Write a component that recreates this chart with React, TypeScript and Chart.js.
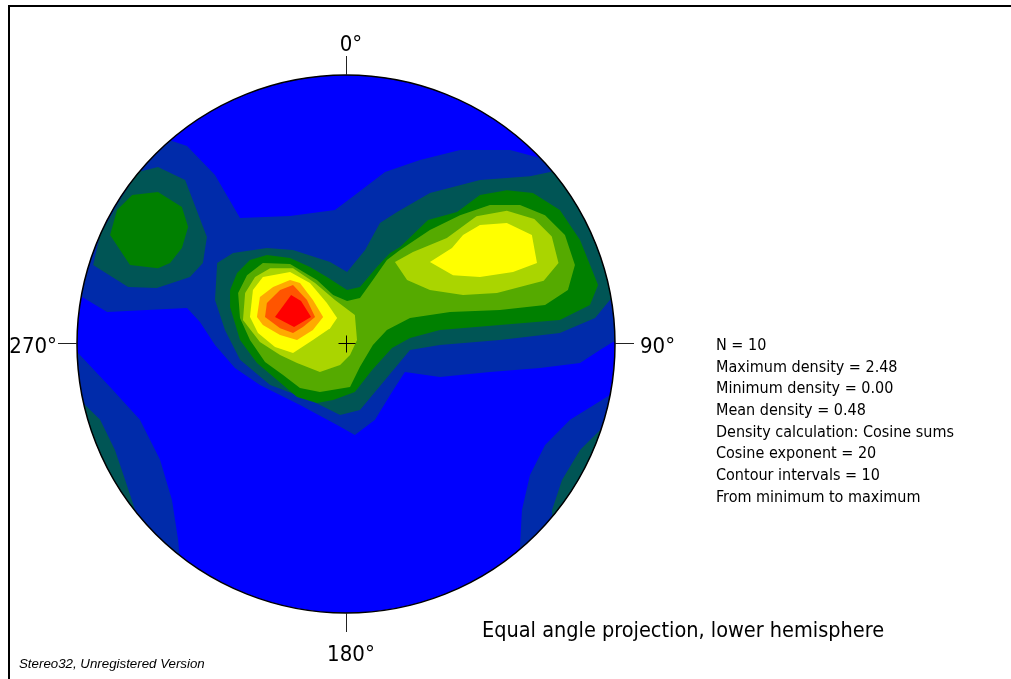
import React, { useEffect, useRef } from 'react';
import { Chart, registerables } from 'chart.js';

Chart.register(...registerables);

// ---- Data -------------------------------------------------------------
// Projection coordinates: primitive circle radius = 100 units, north up.
type Pt = [number, number];

const LEVEL_COLORS = ['#0000FF', '#002BAA', '#005555', '#008000', '#55AA00', '#AAD500', '#FFFF00', '#FFAA00', '#FF5500', '#FF0000'];

const DIRECTION_LABELS = ['0°', '90°', '180°', '270°'];

const STATS_LINES = [
  'N = 10',
  'Maximum density = 2.48',
  'Minimum density = 0.00',
  'Mean density = 0.48',
  'Density calculation: Cosine sums',
  'Cosine exponent = 20',
  'Contour intervals = 10',
  'From minimum to maximum',
];

const PROJECTION_TITLE = 'Equal angle projection, lower hemisphere';
const FOOTNOTE = 'Stereo32, Unregistered Version';

// contour level 1
const L1_MAIN: Pt[] = [[-76.6,79.5],[-59.1,73.6],[-48.7,62.8],[-39.4,46.8],[-20.8,47.6],[-4.1,49.8],[3.3,55.4],[14.5,63.9],[27.5,68.4],[42.4,72.1],[61.0,72.1],[72.1,69.1],[79.5,75.8],[124.1,16.4],[109.3,-0.4],[99.2,0.7],[94.4,-2.2],[87.0,-7.1],[72.1,-8.9],[53.5,-10.4],[34.9,-12.3],[21.9,-10.4],[16.4,-19.0],[10.8,-28.2],[3.3,-33.8],[-3.3,-30.1],[-17.1,-22.7],[-32.0,-15.2],[-41.3,-8.9],[-48.7,-0.4],[-54.3,8.2],[-59.1,13.4],[-88.8,11.9],[-98.1,17.5],[-110.0,20.1],[-106.3,53.5]];
const L1_SW: Pt[] = [[-106.3,1.5],[-99.6,-3.3],[-87.7,-16.0],[-76.6,-28.2],[-69.1,-43.1],[-64.7,-58.0],[-62.4,-72.9],[-61.7,-80.3],[-72.9,-95.2],[-113.7,-39.4]];
const L1_SE: Pt[] = [[109.3,-17.1],[98.1,-19.0],[83.3,-28.2],[74.0,-37.5],[68.4,-48.7],[65.4,-61.7],[64.7,-74.7],[64.7,-87.7],[109.3,-80.3]];
// contour level 2
const L2_NW: Pt[] = [[-77.3,63.9],[-69.9,65.8],[-59.8,61.0],[-51.7,39.8],[-53.2,30.1],[-58.0,24.9],[-70.3,20.8],[-81.0,21.2],[-94.0,29.4],[-91.4,40.5],[-84.0,53.5]];
const L2_MAIN: Pt[] = [[-48.7,16.4],[-47.9,30.1],[-42.0,33.8],[-29.4,35.7],[-19.7,34.9],[-5.9,30.5],[0.4,26.8],[7.1,34.9],[12.6,45.0],[19.0,49.1],[31.2,56.1],[49.8,61.0],[68.4,62.4],[79.5,64.7],[113.0,23.8],[109.3,16.4],[98.1,16.4],[92.6,9.7],[79.5,4.1],[57.2,1.5],[34.9,-0.4],[23.8,-2.2],[14.5,-13.4],[5.2,-24.5],[-2.2,-26.4],[-13.4,-20.8],[-28.2,-15.2],[-39.4,-5.9],[-45.0,5.2]];
const L2_SW: Pt[] = [[-102.6,-17.1],[-91.4,-28.2],[-85.9,-39.4],[-82.1,-50.6],[-78.4,-61.7],[-76.6,-67.3],[-87.7,-80.3],[-113.7,-39.4]];
const L2_SE: Pt[] = [[109.3,-28.2],[96.3,-30.1],[87.0,-39.4],[80.3,-50.6],[76.6,-61.7],[76.6,-69.1],[79.5,-80.3],[109.3,-65.4]];
// contour level 3
const L3_NW: Pt[] = [[-79.5,55.4],[-69.9,56.5],[-61.0,50.9],[-58.7,43.5],[-61.0,35.7],[-65.4,30.1],[-69.9,28.2],[-80.3,29.4],[-87.7,40.5],[-85.1,49.8]];
const L3_MAIN: Pt[] = [[-43.1,13.8],[-43.1,20.1],[-40.5,26.4],[-35.7,31.2],[-29.4,33.1],[-20.8,32.0],[-13.4,28.6],[-7.1,24.9],[0.4,20.1],[5.2,21.2],[11.5,28.6],[16.4,33.8],[20.1,36.1],[30.5,46.1],[41.3,49.1],[49.8,55.4],[59.8,57.2],[69.5,56.1],[79.5,49.8],[87.0,38.7],[93.7,21.9],[90.7,14.5],[79.5,8.9],[57.2,7.1],[34.9,5.2],[23.8,2.2],[17.1,-1.5],[9.7,-9.7],[3.3,-17.8],[-4.8,-20.8],[-10.8,-21.9],[-18.2,-19.7],[-25.6,-13.4],[-33.1,-7.1],[-39.4,1.5]];
// contour level 4
const L4_MAIN: Pt[] = [[-39.4,9.7],[-40.1,19.0],[-36.8,25.6],[-30.9,30.1],[-20.8,29.7],[-10.8,23.8],[-4.8,18.2],[0.4,16.0],[5.2,17.1],[10.0,23.8],[15.2,31.2],[20.1,34.9],[31.2,42.4],[42.4,47.9],[53.5,51.7],[64.7,51.7],[74.0,47.9],[81.4,40.5],[85.1,29.4],[82.5,20.1],[74.0,14.5],[57.2,12.6],[38.7,11.9],[23.8,9.7],[15.2,5.2],[10.0,-0.4],[5.2,-8.5],[1.5,-16.0],[-9.7,-17.8],[-17.1,-16.4],[-23.4,-11.5],[-30.1,-6.7],[-35.7,1.5]];
// contour level 5
const L5_CENTRAL: Pt[] = [[-38.3,8.9],[-37.5,19.0],[-33.8,24.9],[-28.2,28.2],[-19.7,28.2],[-11.5,22.7],[-4.1,16.4],[3.3,10.8],[4.1,1.5],[1.5,-4.1],[-2.2,-7.8],[-9.7,-10.4],[-18.2,-7.1],[-24.5,-4.1],[-32.0,0.7]];
const L5_NE: Pt[] = [[18.2,30.5],[24.9,34.2],[37.5,39.4],[48.5,47.5],[59.8,49.5],[70.0,46.5],[76.5,40.0],[79.0,30.1],[73.5,23.5],[56.1,19.0],[43.5,18.2],[31.2,20.1],[22.7,23.8]];
// contour level 6
const L6_CENTRAL: Pt[] = [[-35.7,10.0],[-34.6,20.1],[-30.9,24.9],[-20.8,26.8],[-13.4,22.7],[-7.1,15.2],[-3.3,9.7],[-5.9,5.9],[-12.3,1.5],[-19.7,-3.3],[-26.4,-1.1],[-32.7,4.1]];
const L6_NE: Pt[] = [[31.2,30.5],[39.4,35.7],[43.5,40.5],[49.8,44.2],[59.8,45.0],[69.1,40.5],[71.0,30.1],[62.1,26.8],[49.8,24.9],[39.8,25.6]];
// contour levels 7-9
const L7_CENTRAL: Pt[] = [[-33.1,10.0],[-32.0,17.5],[-27.1,21.2],[-20.8,23.8],[-17.1,22.7],[-12.3,16.4],[-8.5,10.0],[-12.3,5.2],[-18.2,1.5],[-24.5,3.3],[-30.9,7.1]];
const L8_CENTRAL: Pt[] = [[-30.1,10.0],[-29.4,15.2],[-24.5,20.1],[-19.7,21.9],[-14.5,16.4],[-11.5,10.0],[-16.0,6.3],[-19.7,4.1],[-24.5,5.9]];
const L9_CENTRAL: Pt[] = [[-26.4,10.0],[-20.4,18.2],[-16.7,16.0],[-13.0,10.0],[-19.3,6.3]];

const CONTOURS: { level: number; polys: Pt[][] }[] = [
  { level: 1, polys: [L1_MAIN, L1_SW, L1_SE] },
  { level: 2, polys: [L2_NW, L2_MAIN, L2_SW, L2_SE] },
  { level: 3, polys: [L3_NW, L3_MAIN] },
  { level: 4, polys: [L4_MAIN] },
  { level: 5, polys: [L5_CENTRAL, L5_NE] },
  { level: 6, polys: [L6_CENTRAL, L6_NE] },
  { level: 7, polys: [L7_CENTRAL] },
  { level: 8, polys: [L8_CENTRAL] },
  { level: 9, polys: [L9_CENTRAL] },
];

const PROJ_RADIUS = 100;

// ---- Layout ------------------------------------------------------------
const W = 1011;
const H = 679;
const CX = 346;
const CY = 344;
const R = 269;
const TICK_LEN = 19;
const FONT = '"DejaVu Sans Condensed", "Liberation Sans", sans-serif';

const stereoPlugin = {
  id: 'stereo',
  beforeDraw(chart: any) {
    const ctx = chart.ctx as CanvasRenderingContext2D;
    ctx.save();
    ctx.fillStyle = '#ffffff';
    ctx.fillRect(0, 0, chart.width, chart.height);
    ctx.fillStyle = '#000000';
    ctx.fillRect(8, 5, chart.width - 8, 2);
    ctx.fillRect(8, 5, 2, chart.height - 5);
    ctx.restore();
  },
  beforeDatasetsDraw(chart: any) {
    const ctx = chart.ctx as CanvasRenderingContext2D;
    const { x, y } = chart.scales;
    const cx = x.getPixelForValue(0);
    const cy = y.getPixelForValue(0);
    const r = x.getPixelForValue(PROJ_RADIUS) - cx;
    ctx.save();
    ctx.beginPath();
    ctx.arc(cx, cy, r, 0, Math.PI * 2);
    ctx.fillStyle = LEVEL_COLORS[0];
    ctx.fill();
    ctx.clip();
  },
  afterDatasetsDraw(chart: any) {
    const ctx = chart.ctx as CanvasRenderingContext2D;
    ctx.restore();
    const { x, y } = chart.scales;
    const cx = x.getPixelForValue(0);
    const cy = y.getPixelForValue(0);
    const r = x.getPixelForValue(PROJ_RADIUS) - cx;
    ctx.save();
    // primitive circle
    ctx.beginPath();
    ctx.arc(cx, cy, r, 0, Math.PI * 2);
    ctx.lineWidth = 1.5;
    ctx.strokeStyle = '#000000';
    ctx.stroke();
    // ticks
    const px = Math.round(cx) + 0.5;
    const py = Math.round(cy) - 0.5;
    ctx.lineWidth = 1;
    ctx.strokeStyle = '#222222';
    ctx.beginPath();
    ctx.moveTo(px, cy - r - TICK_LEN); ctx.lineTo(px, cy - r);
    ctx.moveTo(px, cy + r); ctx.lineTo(px, cy + r + TICK_LEN);
    ctx.moveTo(cx - r - TICK_LEN, py); ctx.lineTo(cx - r, py);
    ctx.moveTo(cx + r, py); ctx.lineTo(cx + r + TICK_LEN, py);
    ctx.stroke();
    // centre cross
    ctx.strokeStyle = '#000000';
    ctx.beginPath();
    ctx.moveTo(px - 8, py); ctx.lineTo(px + 9, py);
    ctx.moveTo(px, py - 8); ctx.lineTo(px, py + 9);
    ctx.stroke();
    // direction labels
    ctx.fillStyle = '#000000';
    ctx.font = `22px ${FONT}`;
    ctx.textBaseline = 'alphabetic';
    const num = (s: string) => ctx.measureText(s.replace('°', '')).width;
    ctx.textAlign = 'left';
    ctx.fillText(DIRECTION_LABELS[0], cx - num(DIRECTION_LABELS[0]) / 2, cy - r - TICK_LEN - 5);
    ctx.fillText(DIRECTION_LABELS[2], cx - num(DIRECTION_LABELS[2]) / 2, cy + r + TICK_LEN + 29);
    ctx.fillText(DIRECTION_LABELS[1], cx + r + TICK_LEN + 6, cy + 9);
    ctx.textAlign = 'right';
    ctx.fillText(DIRECTION_LABELS[3], cx - r - TICK_LEN - 1, cy + 9);
    // statistics
    ctx.textAlign = 'left';
    ctx.font = `16px ${FONT}`;
    STATS_LINES.forEach((s, i) => ctx.fillText(s, 716, 350 + i * 21.67));
    // title
    ctx.font = `21.5px ${FONT}`;
    ctx.fillText(PROJECTION_TITLE, 482, 637);
    // footnote
    ctx.font = 'italic 13.3px "Liberation Sans", Arial, sans-serif';
    ctx.fillText(FOOTNOTE, 19, 668);
    ctx.restore();
  },
};

export default function App() {
  const ref = useRef<HTMLCanvasElement>(null);
  useEffect(() => {
    const canvas = ref.current;
    if (!canvas) return;
    const datasets: any[] = [];
    CONTOURS.forEach(({ level, polys }) => {
      polys.forEach((poly) => {
        datasets.push({
          data: poly.map(([px, py]) => ({ x: px, y: py })),
          showLine: true,
          fill: 'shape',
          backgroundColor: LEVEL_COLORS[level],
          borderWidth: 0,
          pointRadius: 0,
          tension: 0,
          order: 100 - level,
        });
      });
    });
    const chart = new Chart(canvas, {
      type: 'scatter',
      data: { datasets },
      options: {
        responsive: false,
        animation: false,
        devicePixelRatio: 1,
        events: [],
        layout: { padding: { left: CX - R, right: W - (CX + R), top: CY - R, bottom: H - (CY + R) } },
        scales: {
          x: { type: 'linear', min: -PROJ_RADIUS, max: PROJ_RADIUS, display: false },
          y: { type: 'linear', min: -PROJ_RADIUS, max: PROJ_RADIUS, display: false },
        },
        plugins: { legend: { display: false }, tooltip: { enabled: false }, title: { display: false } },
      },
      plugins: [stereoPlugin],
    });
    return () => chart.destroy();
  }, []);
  return (
    <div style={{ position: 'absolute', left: 0, top: 0, width: W, height: H, background: '#ffffff' }}>
      <canvas ref={ref} width={W} height={H} style={{ display: 'block' }} />
    </div>
  );
}
